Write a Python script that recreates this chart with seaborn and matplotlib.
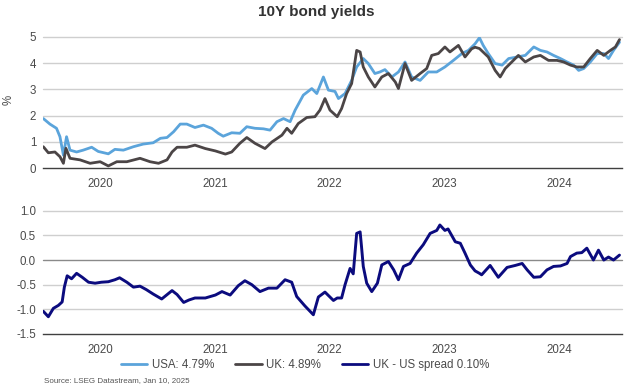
import matplotlib
matplotlib.use("Agg")
import matplotlib.pyplot as plt
from matplotlib.lines import Line2D
import seaborn as sns
import pandas as pd

# ---------------- data ----------------
usa_dates = ["2020-01-02", "2020-01-23", "2020-02-13", "2020-02-24", "2020-03-06", "2020-03-16",
             "2020-03-27", "2020-04-17", "2020-05-08", "2020-06-04", "2020-06-25", "2020-07-27",
             "2020-08-17", "2020-09-13", "2020-10-15", "2020-11-15", "2020-12-17", "2021-01-09",
             "2021-01-30", "2021-02-20", "2021-03-13", "2021-04-03", "2021-04-29", "2021-05-26",
             "2021-06-21", "2021-07-12", "2021-07-28", "2021-08-24", "2021-09-19", "2021-10-11",
             "2021-11-06", "2021-12-03", "2021-12-24", "2022-01-15", "2022-02-05", "2022-02-26",
             "2022-03-14", "2022-04-09", "2022-05-06", "2022-05-22", "2022-06-12", "2022-06-28",
             "2022-07-19", "2022-07-30", "2022-08-20", "2022-09-10", "2022-09-26", "2022-10-17",
             "2022-11-02", "2022-11-23", "2022-12-09", "2022-12-25", "2023-01-16", "2023-02-06",
             "2023-02-27", "2023-03-20", "2023-04-16", "2023-05-12", "2023-06-08", "2023-07-04",
             "2023-07-31", "2023-08-27", "2023-09-17", "2023-10-08", "2023-10-22", "2023-11-03",
             "2023-11-19", "2023-12-11", "2024-01-02", "2024-01-23", "2024-02-19", "2024-03-16",
             "2024-04-12", "2024-05-03", "2024-05-24", "2024-06-14", "2024-07-06", "2024-07-27",
             "2024-08-17", "2024-09-02", "2024-09-18", "2024-10-09", "2024-10-31", "2024-11-21",
             "2024-12-06", "2024-12-22", "2025-01-10"]
usa_vals = [1.89, 1.68, 1.52, 1.20, 0.50, 1.20,
            0.69, 0.62, 0.69, 0.80, 0.64, 0.55,
            0.72, 0.69, 0.82, 0.92, 0.97, 1.14,
            1.17, 1.39, 1.68, 1.68, 1.55, 1.64,
            1.52, 1.33, 1.22, 1.35, 1.33, 1.58,
            1.52, 1.50, 1.45, 1.77, 1.89, 1.77,
            2.21, 2.78, 3.03, 2.84, 3.47, 2.97,
            2.92, 2.65, 2.84, 3.34, 3.85, 4.17,
            3.98, 3.60, 3.66, 3.75, 3.47, 3.66,
            4.04, 3.47, 3.34, 3.66, 3.66, 3.85,
            4.10, 4.36, 4.48, 4.73, 4.96, 4.67,
            4.36, 3.98, 3.92, 4.17, 4.23, 4.29,
            4.61, 4.48, 4.42, 4.29, 4.17, 4.04,
            3.92, 3.72, 3.79, 4.04, 4.36, 4.36,
            4.17, 4.48, 4.79]

uk_dates = ["2020-01-02", "2020-01-18", "2020-02-08", "2020-02-24", "2020-03-06", "2020-03-14",
            "2020-03-27", "2020-04-28", "2020-05-30", "2020-07-01", "2020-07-27", "2020-08-23",
            "2020-09-24", "2020-11-05", "2020-12-07", "2021-01-03", "2021-01-30", "2021-02-15",
            "2021-03-03", "2021-04-03", "2021-04-29", "2021-06-01", "2021-07-03", "2021-08-04",
            "2021-08-24", "2021-09-19", "2021-10-11", "2021-11-06", "2021-12-08", "2021-12-30",
            "2022-01-31", "2022-02-16", "2022-03-03", "2022-03-24", "2022-04-20", "2022-05-16",
            "2022-06-01", "2022-06-17", "2022-07-03", "2022-07-26", "2022-08-09", "2022-08-25",
            "2022-09-10", "2022-09-26", "2022-10-07", "2022-10-17", "2022-11-02", "2022-11-23",
            "2022-12-15", "2023-01-05", "2023-01-27", "2023-02-06", "2023-02-27", "2023-03-20",
            "2023-04-16", "2023-05-07", "2023-05-23", "2023-06-13", "2023-07-04", "2023-07-20",
            "2023-08-16", "2023-09-06", "2023-09-27", "2023-10-08", "2023-10-22", "2023-11-19",
            "2023-12-11", "2023-12-27", "2024-01-12", "2024-02-02", "2024-02-23", "2024-03-16",
            "2024-04-12", "2024-05-03", "2024-05-29", "2024-06-25", "2024-07-16", "2024-08-07",
            "2024-08-27", "2024-09-18", "2024-10-09", "2024-10-31", "2024-11-21", "2024-12-12",
            "2024-12-28", "2025-01-10"]
uk_vals = [0.82, 0.59, 0.62, 0.44, 0.19, 0.76,
           0.38, 0.32, 0.19, 0.25, 0.09, 0.25,
           0.25, 0.38, 0.25, 0.19, 0.32, 0.62,
           0.80, 0.80, 0.88, 0.75, 0.66, 0.54,
           0.62, 0.95, 1.17, 0.95, 0.75, 1.00,
           1.26, 1.52, 1.33, 1.70, 1.93, 1.96,
           2.21, 2.65, 2.21, 1.96, 2.27, 2.84,
           3.22, 4.48, 4.42, 3.85, 3.47, 3.09,
           3.47, 3.60, 3.28, 3.03, 3.98, 3.34,
           3.60, 3.79, 4.29, 4.36, 4.61, 4.42,
           4.67, 4.23, 4.54, 4.60, 4.55, 4.23,
           3.72, 3.47, 3.79, 4.04, 4.29, 4.04,
           4.23, 4.29, 4.10, 4.10, 4.04, 3.92,
           3.85, 3.85, 4.17, 4.48, 4.29, 4.48,
           4.61, 4.89]

spread_dates = ["2020-01-02", "2020-01-18", "2020-02-03", "2020-02-19", "2020-03-02", "2020-03-09",
                "2020-03-18", "2020-04-01", "2020-04-17", "2020-05-05", "2020-05-25", "2020-06-15",
                "2020-07-05", "2020-07-27", "2020-08-17", "2020-09-01", "2020-09-24", "2020-10-15",
                "2020-11-05", "2020-11-25", "2020-12-17", "2021-01-13", "2021-02-15", "2021-03-03",
                "2021-03-24", "2021-04-10", "2021-04-29", "2021-06-01", "2021-07-03", "2021-07-24",
                "2021-08-19", "2021-09-14", "2021-10-05", "2021-10-27", "2021-11-22", "2021-12-19",
                "2022-01-15", "2022-02-10", "2022-03-03", "2022-03-19", "2022-04-14", "2022-05-11",
                "2022-05-27", "2022-06-17", "2022-07-14", "2022-07-26", "2022-08-09", "2022-08-20",
                "2022-09-05", "2022-09-15", "2022-09-26", "2022-10-07", "2022-10-11", "2022-10-17",
                "2022-10-28", "2022-11-13", "2022-12-01", "2022-12-15", "2023-01-05", "2023-01-22",
                "2023-02-06", "2023-02-22", "2023-03-15", "2023-04-05", "2023-04-26", "2023-05-18",
                "2023-06-08", "2023-06-18", "2023-07-04", "2023-07-14", "2023-08-06", "2023-08-22",
                "2023-09-06", "2023-09-23", "2023-10-08", "2023-10-22", "2023-10-29", "2023-11-25",
                "2023-12-21", "2024-01-18", "2024-02-13", "2024-03-06", "2024-03-22", "2024-04-12",
                "2024-05-03", "2024-05-24", "2024-06-14", "2024-07-06", "2024-07-27", "2024-08-07",
                "2024-08-27", "2024-09-12", "2024-09-28", "2024-10-19", "2024-11-04", "2024-11-21",
                "2024-12-06", "2024-12-22", "2025-01-10"]
spread_vals = [-1.04, -1.15, -0.98, -0.92, -0.85, -0.55,
               -0.32, -0.38, -0.27, -0.35, -0.45, -0.47,
               -0.45, -0.44, -0.40, -0.36, -0.45, -0.55,
               -0.53, -0.60, -0.69, -0.79, -0.62, -0.70,
               -0.86, -0.81, -0.77, -0.77, -0.71, -0.64,
               -0.71, -0.52, -0.42, -0.50, -0.64, -0.57,
               -0.57, -0.40, -0.45, -0.74, -0.93, -1.11,
               -0.75, -0.65, -0.82, -0.77, -0.77, -0.50,
               -0.17, -0.28, 0.54, 0.57, 0.30, -0.13,
               -0.47, -0.64, -0.47, -0.10, -0.03, -0.20,
               -0.40, -0.13, -0.07, 0.14, 0.31, 0.54,
               0.60, 0.71, 0.60, 0.63, 0.37, 0.34,
               0.14, -0.10, -0.22, -0.27, -0.30, -0.11,
               -0.35, -0.15, -0.11, -0.07, -0.20, -0.35,
               -0.34, -0.20, -0.13, -0.12, -0.07, 0.07,
               0.14, 0.15, 0.24, 0.00, 0.20, 0.00,
               0.06, 0.00, 0.10]

title = "10Y bond yields"
legend_labels = ["USA: 4.79%", "UK: 4.89%", "UK - US spread 0.10%"]
source_text = "Source: LSEG Datastream, Jan 10, 2025"
top_yticks = [0, 1, 2, 3, 4, 5]
bottom_yticks = [-1.5, -1.0, -0.5, 0.0, 0.5, 1.0]
years = [2020, 2021, 2022, 2023, 2024]

# ---------------- style ----------------
sns.set_style("white")
plt.rcParams["font.family"] = ["Liberation Sans", "DejaVu Sans"]
plt.rcParams["axes.unicode_minus"] = False

C_USA = "#5BA4DB"
C_UK = "#4B4546"
C_SPR = "#0B0B7E"
GRID = "#CFCFCF"
TXT = "#4A4A4A"

usa = pd.DataFrame({"date": pd.to_datetime(usa_dates), "val": usa_vals})
uk = pd.DataFrame({"date": pd.to_datetime(uk_dates), "val": uk_vals})
spr = pd.DataFrame({"date": pd.to_datetime(spread_dates), "val": spread_vals})

W, H = 624, 386
fig = plt.figure(figsize=(W / 100, H / 100), dpi=100)
left = 43 / W
width = (622 - 43) / W
ax1 = fig.add_axes([left, 1 - 168.3 / H, width, (168.3 - 36.7) / H])
ax2 = fig.add_axes([left, 1 - 334 / H, width, (334 - 210.7) / H])

xmin = pd.Timestamp("2020-01-01")
xmax = pd.Timestamp("2025-01-18")

sns.lineplot(data=usa, x="date", y="val", ax=ax1, color=C_USA, lw=2.0, zorder=3)
sns.lineplot(data=uk, x="date", y="val", ax=ax1, color=C_UK, lw=2.0, zorder=4)
sns.lineplot(data=spr, x="date", y="val", ax=ax2, color=C_SPR, lw=2.1, zorder=3)

for ax, yt, lo, hi in [(ax1, top_yticks, 0, 5), (ax2, bottom_yticks, -1.5, 1.0)]:
    ax.set_xlim(xmin, xmax)
    ax.set_ylim(lo, hi)
    ax.set_yticks(yt)
    if ax is ax1:
        ax.set_yticklabels([str(v) for v in yt])
    else:
        ax.set_yticklabels([f"{v:.1f}" for v in yt])
    for v in yt:
        if v == lo:
            continue
        col = "#8A8A8A" if (ax is ax2 and v == 0) else GRID
        ax.axhline(v, color=col, lw=1.0, zorder=1, clip_on=False)
    for s in ["top", "right", "left"]:
        ax.spines[s].set_visible(False)
    ax.spines["bottom"].set_color("#404040")
    ax.spines["bottom"].set_linewidth(1.0)
    ax.set_xlabel("")
    ax.set_ylabel("")
    ax.set_xticks([pd.Timestamp(f"{y}-01-01") for y in years + [2025]])
    ax.set_xticklabels([])
    ax.set_xticks([pd.Timestamp(f"{y}-07-02") for y in years], minor=True)
    ax.set_xticklabels([str(y) for y in years], minor=True)
    ax.tick_params(axis="x", which="major", direction="out", length=5, width=1.0, color="#404040")
    ax.tick_params(axis="x", which="minor", length=0, pad=7, labelsize=8.3, labelcolor=TXT)
    ax.tick_params(axis="y", length=0, pad=5, labelsize=8.3, labelcolor=TXT)

fig.text(316 / W, 1 - 12 / H, title, ha="center", va="center", fontsize=11,
         fontweight="bold", color="#333333")
fig.text(9 / W, 1 - 100 / H, "%", ha="center", va="center", rotation=90,
         fontsize=8.3, color=TXT)

handles = [Line2D([], [], color=C_USA, lw=2.0),
           Line2D([], [], color=C_UK, lw=2.0),
           Line2D([], [], color=C_SPR, lw=2.0)]
fig.legend(handles, legend_labels, loc="center", bbox_to_anchor=(305 / W, 1 - 365 / H),
           ncol=3, frameon=False, fontsize=8.3, labelcolor=TXT, handlelength=2.3,
           handletextpad=0.4, columnspacing=1.8)

fig.text(44 / W, 1 - 381 / H, source_text, ha="left", va="center", fontsize=5.8, color="#555555")

fig.savefig("out.png", dpi=100)
